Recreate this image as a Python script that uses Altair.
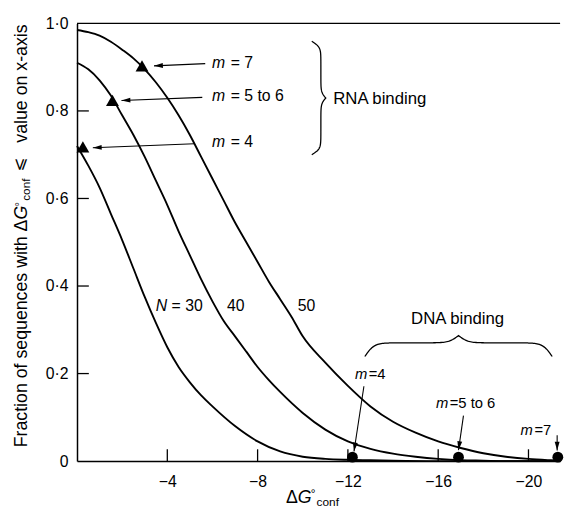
import math
import altair as alt
import pandas as pd

# ---------------- data ----------------
n30_x = [0, -0.5, -1, -1.5, -2, -2.5, -3, -3.5, -4, -4.5, -5, -5.5, -6, -7, -8, -9, -10, -11, -12, -13, -14, -16, -18, -20, -21.4]
n30_y = [0.72, 0.675, 0.625, 0.565, 0.505, 0.44, 0.375, 0.315, 0.26, 0.215, 0.18, 0.15, 0.125, 0.08, 0.045, 0.022, 0.01, 0.005, 0.003, 0.002, 0.001, 0, 0, 0, 0]

n40_x = [0, -0.5, -1, -1.5, -2, -2.5, -3, -3.5, -4, -4.5, -5, -5.5, -6, -6.5, -7, -7.5, -8, -8.5, -9, -10, -11, -12, -13, -14, -15, -16, -17, -18, -19, -21.4]
n40_y = [0.91, 0.895, 0.87, 0.835, 0.79, 0.745, 0.695, 0.64, 0.585, 0.525, 0.47, 0.415, 0.365, 0.32, 0.285, 0.25, 0.215, 0.185, 0.158, 0.11, 0.072, 0.045, 0.028, 0.017, 0.01, 0.005, 0.002, 0.001, 0, 0]

n50_x = [0, -0.5, -1, -1.5, -2, -2.5, -3, -3.5, -4, -4.5, -5, -5.5, -6, -6.5, -7, -7.5, -8, -8.5, -9, -9.5, -10, -11, -12, -13, -14, -15, -16, -17, -18, -19, -20, -21, -21.4]
n50_y = [0.985, 0.98, 0.972, 0.958, 0.94, 0.92, 0.895, 0.865, 0.83, 0.79, 0.745, 0.695, 0.645, 0.595, 0.545, 0.5, 0.455, 0.41, 0.37, 0.33, 0.285, 0.225, 0.172, 0.125, 0.09, 0.065, 0.045, 0.03, 0.018, 0.01, 0.005, 0.002, 0.001]

# RNA-binding thresholds (triangles) and DNA-binding thresholds (circles)
tri_x = [-2.88, -1.57, -0.26]
tri_y = [0.903, 0.824, 0.718]
circ_x = [-12.2, -16.9, -21.3]
circ_y = [0.009, 0.009, 0.009]

m_labels = ["= 7", "= 5 to 6", "= 4"]
m_labels_dna = ["=4", "=5 to 6", "=7"]

x_ticks = [-4, -8, -12, -16, -20]
y_ticks = [0, 0.2, 0.4, 0.6, 0.8, 1.0]

# ---------------- layout ----------------
W, H = 490, 444
X_END = -21.4
FONT = "Liberation Sans"
xscale = alt.Scale(domain=[0, X_END], nice=False, zero=False)
yscale = alt.Scale(domain=[0, 1], nice=False)

x_axis = alt.Axis(values=x_ticks, ticks=False, tickSize=0, labelPadding=13, title=None,
                  labelFlush=False, domainColor="black", domainWidth=1.5, grid=False)
y_axis = alt.Axis(values=y_ticks, ticks=False, tickSize=0, labelPadding=9, title=None,
                  labelFlush=False, domainColor="black", domainWidth=1.5, grid=False,
                  labelExpr="datum.value == 0 ? '0' : replace(format(datum.value, '.1f'), '.', '·')")


def X():
    return alt.X("x:Q", scale=xscale, axis=x_axis)


def Y():
    return alt.Y("y:Q", scale=yscale, axis=y_axis)


# ---------------- curves ----------------
curves = pd.concat([
    pd.DataFrame({"x": n30_x, "y": n30_y, "N": "30"}),
    pd.DataFrame({"x": n40_x, "y": n40_y, "N": "40"}),
    pd.DataFrame({"x": n50_x, "y": n50_y, "N": "50"}),
])

curve_layer = alt.Chart(curves).mark_line(color="black", strokeWidth=1.9, interpolate="monotone").encode(
    x=X(), y=Y(), detail="N:N", order="x_ord:Q"
).transform_calculate(x_ord="-datum.x")

# inward ticks
ytick_layer = alt.Chart(pd.DataFrame({"y": [0.2, 0.4, 0.6, 0.8]})).mark_rule(color="black", strokeWidth=1.3).encode(
    y=Y(), x=alt.value(0), x2=alt.value(12))
xtick_layer = alt.Chart(pd.DataFrame({"x": x_ticks})).mark_rule(color="black", strokeWidth=1.3).encode(
    x=X(), y=alt.value(H), y2=alt.value(H - 12))
top_layer = alt.Chart(pd.DataFrame({"y": [1.0]})).mark_rule(color="black", strokeWidth=1.5).encode(
    y=Y(), x=alt.value(0), x2=alt.value(W))

# markers
tri_layer = alt.Chart(pd.DataFrame({"x": tri_x, "y": tri_y})).mark_point(
    shape="triangle-up", filled=True, color="black", size=170, opacity=1).encode(x=X(), y=Y())
circ_layer = alt.Chart(pd.DataFrame({"x": circ_x, "y": circ_y})).mark_point(
    shape="circle", filled=True, color="black", size=120, opacity=1).encode(x=X(), y=Y())

# ---------------- arrows ----------------
arrows = [
    (-5.68, 0.908, -3.41, 0.903),
    (-5.55, 0.831, -1.97, 0.824),
    (-5.2, 0.725, -0.70, 0.716),
    (-12.71, 0.171, -12.27, 0.022),
    (-17.12, 0.104, -16.9, 0.025),
    (-21.27, 0.059, -21.27, 0.024),
]
seg_rows, head_rows = [], []
for i, (x0, y0, x1, y1) in enumerate(arrows):
    seg_rows += [{"id": i, "o": 0, "x": x0, "y": y0}, {"id": i, "o": 1, "x": x1, "y": y1}]
    dxp = (x1 - x0) * W / X_END
    dyp = -(y1 - y0) * H
    ang = math.degrees(math.atan2(dxp, -dyp)) % 360
    head_rows.append({"x": x1, "y": y1, "ang": ang})

arrow_lines = alt.Chart(pd.DataFrame(seg_rows)).mark_line(color="black", strokeWidth=1.1).encode(
    x=X(), y=Y(), detail="id:N", order="o:Q")
ARROW = "M0,0L0.55,2L-0.55,2Z"
arrow_heads = alt.Chart(pd.DataFrame(head_rows)).mark_point(
    shape=ARROW, filled=True, color="black", size=81, opacity=1, strokeWidth=0).encode(
    x=X(), y=Y(), angle=alt.Angle("ang:Q", scale=None))


# ---------------- braces ----------------
def brace(x0, y0, x1, y1, dx, dy, n=160, k=10.0, a=0.65):
    rows = []
    for i in range(n + 1):
        t = i / n
        u = 2 * t if t <= 0.5 else 2 * (1 - t)
        h = a * math.tanh(k * u) + (1 - a) * (math.tanh(k * (u - 1)) + 1)
        rows.append({"x": x0 + t * (x1 - x0) + dx * h, "y": y0 + t * (y1 - y0) + dy * h, "o": i})
    return rows


rna_brace = pd.DataFrame(brace(-10.4, 0.959, -10.4, 0.700, -0.62, 0.0))
dna_brace = pd.DataFrame(brace(-12.75, 0.239, -21.05, 0.239, 0.0, 0.048))
brace_layers = [
    alt.Chart(df).mark_line(color="black", strokeWidth=1.3).encode(x=X(), y=Y(), order="o:Q")
    for df in (rna_brace, dna_brace)
]


# ---------------- labels ----------------
def txt_layer(df, size=16, style="normal", dx=0, align="left", field="t"):
    return alt.Chart(df).mark_text(align=align, baseline="middle", font=FONT, fontSize=size,
                                   fontStyle=style, dx=dx, color="black").encode(
        x=X(), y=Y(), text=f"{field}:N")


rna_lab = pd.DataFrame({"x": [-5.98, -5.98, -5.98], "y": [0.91, 0.833, 0.73],
                        "m": ["m", "m", "m"], "t": m_labels})
dna_lab = pd.DataFrame({"x": [-12.31, -15.9, -19.65], "y": [0.198, 0.133, 0.07],
                        "m": ["m", "m", "m"], "t": m_labels_dna})
n_lead = pd.DataFrame({"x": [-3.49], "y": [0.354], "m": ["N"], "t": ["= 30"]})
n_other = pd.DataFrame({"x": [-6.64, -9.78], "y": [0.354, 0.354], "t": ["40", "50"]})
group_lab = pd.DataFrame({"x": [-11.35], "y": [0.827], "t": ["RNA binding"]})
group_lab2 = pd.DataFrame({"x": [-16.86], "y": [0.324], "t": ["DNA binding"]})

label_layers = [
    txt_layer(rna_lab, 16, "italic", field="m"),
    txt_layer(rna_lab, 16, dx=19),
    txt_layer(dna_lab, 15, "italic", field="m"),
    txt_layer(dna_lab, 15, dx=14),
    txt_layer(n_lead, 16, "italic", field="m"),
    txt_layer(n_lead, 16, dx=16),
    txt_layer(n_other, 16),
    txt_layer(group_lab, 17),
    txt_layer(group_lab2, 17, align="center"),
]


# ---------------- axis titles (composed, with sub/superscripts) ----------------
def ptext(t, x, y, size=18, angle=0, align="left", style="normal", font=FONT, baseline="alphabetic"):
    return alt.Chart(pd.DataFrame({"t": [t]})).mark_text(
        align=align, baseline=baseline, angle=angle, fontSize=size, fontStyle=style,
        font=font, color="black").encode(x=alt.value(x), y=alt.value(y), text="t:N")


title_layers = [
    # y title (rotated)
    ptext("Fraction of sequences with", -51, 216, angle=270, align="right"),
    ptext("Δ", -51, 211, angle=270),
    ptext("G", -51, 199, angle=270, style="italic"),
    ptext("°", -55, 186, size=12, angle=270),
    ptext("conf", -48, 180, size=12, angle=270),
    ptext("⩽", -58, 143, size=17, angle=270, align="center", font="DejaVu Sans", baseline="middle"),
    ptext("value on x-axis", -51, 1, angle=270, align="right"),
    # x title
    ptext("Δ", 212, 486),
    ptext("G", 224, 486, style="italic"),
    ptext("°", 237, 480, size=12),
    ptext("conf", 243, 490, size=12),
]

chart = alt.layer(
    curve_layer, ytick_layer, xtick_layer, top_layer, *brace_layers,
    arrow_lines, arrow_heads, tri_layer, circ_layer, *label_layers, *title_layers
).properties(
    width=W, height=H,
    padding={"left": 70, "top": 12, "right": 6, "bottom": 47},
    autosize=alt.AutoSizeParams(type="none"),
).configure_view(strokeWidth=0).configure_axis(
    labelFont=FONT, labelFontSize=16, labelColor="black", grid=False
)

chart.save("out.html", embed_options={"renderer": "svg", "actions": False})
